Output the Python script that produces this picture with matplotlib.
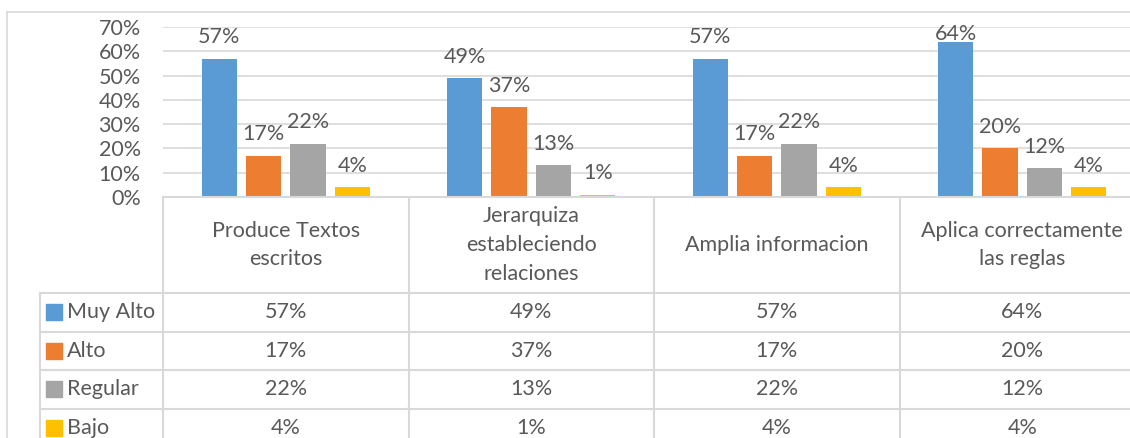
import matplotlib.pyplot as plt
from matplotlib.lines import Line2D

# datos
categorias = ["Produce Textos\nescritos", "Jerarquiza\nestableciendo\nrelaciones",
              "Amplia informacion", "Aplica correctamente\nlas reglas"]
series = ["Muy Alto", "Alto", "Regular", "Bajo"]
muy_alto = [0.57, 0.49, 0.57, 0.64]
alto = [0.17, 0.37, 0.17, 0.20]
regular = [0.22, 0.13, 0.22, 0.12]
bajo = [0.04, 0.01, 0.04, 0.04]
yticks = [0, 0.1, 0.2, 0.3, 0.4, 0.5, 0.6, 0.7]

valores = [muy_alto, alto, regular, bajo]
colores = ["#5B9BD5", "#ED7D31", "#A5A5A5", "#FFC000"]
txt = "#595959"
linea = "#D9D9D9"
fs = 15.5

plt.rcParams['font.family'] = ['Lato', 'DejaVu Sans']

W, H = 1130, 438
fig = plt.figure(figsize=(W / 100, H / 100), dpi=100)

# marco exterior (solo se ve izquierda y arriba)
fig.add_artist(Line2D([7 / W, 7 / W], [0, 1 - 12 / H], color=linea, lw=1.2, transform=fig.transFigure))
fig.add_artist(Line2D([7 / W, 1], [1 - 12 / H, 1 - 12 / H], color=linea, lw=1.2, transform=fig.transFigure))

# grafico de barras
x0, x1 = 163, 1145
ax = fig.add_axes([x0 / W, 1 - 197 / H, (x1 - x0) / W, 170 / H])
ax.set_xlim(0, 4)
ax.set_ylim(0, 0.7)
ancho = 0.143
paso = 0.181
for s, (vals, col) in enumerate(zip(valores, colores)):
    xs = [i + 0.5 + (s - 1.5) * paso for i in range(len(categorias))]
    ax.bar(xs, vals, width=ancho, color=col, zorder=3)
    for x, v in zip(xs, vals):
        y = v + 0.063
        if y + 0.05 > 0.71:
            ax.text(x, 0.712, f"{v:.0%}", ha='center', va='top', fontsize=fs, color=txt, zorder=4)
        else:
            ax.text(x, y, f"{v:.0%}", ha='center', va='baseline', fontsize=fs, color=txt, zorder=4)

ax.set_yticks(yticks)
ax.set_yticklabels([f"{t:.0%}" for t in yticks], fontsize=fs, color=txt)
ax.tick_params(axis='y', length=0, pad=16)
ax.set_xticks([])
ax.grid(axis='y', color=linea, lw=1.2, zorder=0)
for sp in ax.spines.values():
    sp.set_visible(False)

# tabla de datos
hdr = 96
fila = 38.5
tx0 = 40
ax_t = fig.add_axes([tx0 / W, 1 - (197 + hdr + 4 * fila) / H, (x1 - tx0) / W, (hdr + 4 * fila) / H])
izq = -(x0 - tx0) / (x1 - x0) * 4
ax_t.set_xlim(izq, 4)
ax_t.set_ylim(-(hdr + 4 * fila), 0)
ax_t.axis('off')

kw = dict(color=linea, lw=1.5, clip_on=False)
ax_t.plot([0, 4], [0, 0], **kw)
for k in range(5):
    ax_t.plot([izq, 4], [-hdr - k * fila] * 2, **kw)
for i in range(5):
    ax_t.plot([i, i], [0, -(hdr + 4 * fila)], **kw)
ax_t.plot([izq, izq], [-hdr, -(hdr + 4 * fila)], **kw)

for i, c in enumerate(categorias):
    ax_t.text(i + 0.5, -hdr / 2, c, ha='center', va='center', fontsize=fs, color=txt, linespacing=1.55)

for s, (nombre, vals, col) in enumerate(zip(series, valores, colores)):
    yc = -hdr - (s + 0.5) * fila
    ax_t.scatter([izq + 0.057], [yc], marker='s', s=120, color=col, clip_on=False)
    ax_t.text(izq + 0.11, yc, nombre, ha='left', va='center', fontsize=fs, color=txt)
    for i, v in enumerate(vals):
        ax_t.text(i + 0.5, yc, f"{v:.0%}", ha='center', va='center', fontsize=fs, color=txt)

fig.savefig("out.png", dpi=100)
